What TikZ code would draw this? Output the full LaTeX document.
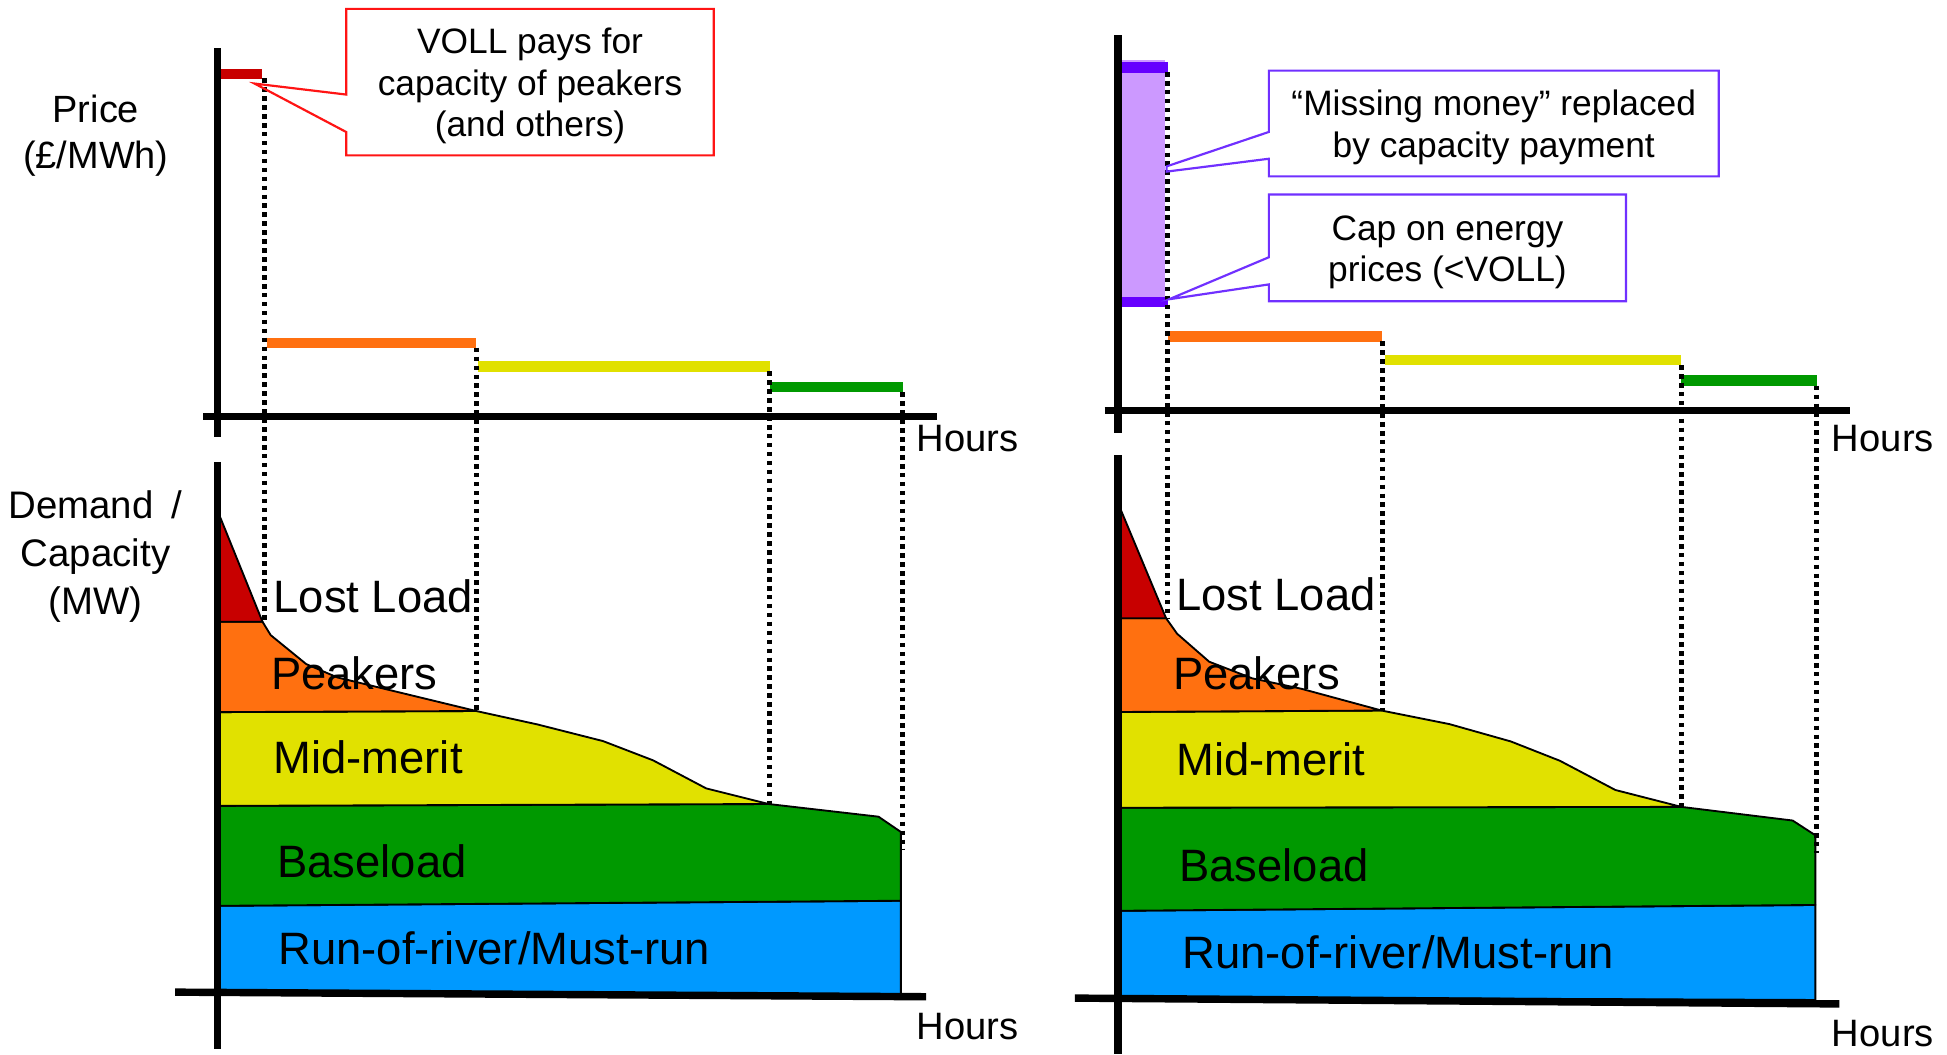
\documentclass[tikz,border=0pt]{standalone}
\usepackage{fontspec}
\setmainfont{Liberation Sans}
\usetikzlibrary{calc}
\definecolor{cRed}{RGB}{200,0,0}
\definecolor{cOrange}{RGB}{255,112,16}
\definecolor{cYellow}{RGB}{225,225,0}
\definecolor{cGreen}{RGB}{0,153,0}
\definecolor{cBlue}{RGB}{0,153,255}
\definecolor{cLilac}{RGB}{204,153,255}
\definecolor{cPurple}{RGB}{102,0,255}
\definecolor{cBorderPurple}{RGB}{112,48,255}
\definecolor{cBorderRed}{RGB}{255,20,20}
\newcommand\calltopstrut{\rule{0pt}{15.2pt}}
\begin{document}
\begin{tikzpicture}[x=0.02cm,y=-0.02cm,
  lay/.style={draw=black,line width=0.85pt,line join=round},
  axisline/.style={line width=3.4pt},
  pbar/.style={line width=4.9pt},
  dots/.style={line width=2.3pt,dash pattern=on 2.1pt off 2.0pt},
  lbl/.style={font=\fontsize{20.8}{25}\selectfont,anchor=base west,inner sep=0pt},
  hrs/.style={font=\fontsize{17.5}{21}\selectfont,anchor=base west,inner sep=0pt},
  calltext/.style={align=center,inner sep=0pt,font=\fontsize{16.2}{19}\selectfont},
  redcall/.style={draw=cBorderRed,line width=1pt,line join=miter},
  purcall/.style={draw=cBorderPurple,line width=1pt,line join=miter}]
\useasboundingbox (0,0) rectangle (1568,849);

% ---------------- LEFT PANEL: load layers ----------------
\fill[cBlue,lay] (175,729.5) -- (725.5,725.4) -- (725.5,801.5) -- (175,798) -- cycle;
\fill[cGreen,lay] (175,649) -- (619,647.5) -- (707.5,657.7) -- (725.5,670) -- (725.5,725.4) -- (175,729.5) -- cycle;
\fill[cYellow,lay] (175,573.5) -- (383.5,572.6) -- (432.8,583.4) -- (485.6,596.8) -- (525.9,612.3) -- (568.7,634.9) -- (619,647.5) -- (175,649) -- cycle;
\fill[cOrange,lay] (175,500.7) -- (211.4,500.7) -- (218,511.5) -- (246.6,534.8) -- (271.8,545.6) -- (317,556.5) -- (383.5,572.6) -- (175,573.5) -- cycle;
\fill[cRed,lay] (175,410.8) -- (211.4,500.7) -- (175,500.7) -- cycle;

% ---------------- RIGHT PANEL: load layers ----------------
\fill[cBlue,lay] (900,733.5) -- (1462,728.8) -- (1462,805.3) -- (900,803) -- cycle;
\fill[cGreen,lay] (900,650.5) -- (1354,649.8) -- (1443.7,660.8) -- (1462,672.7) -- (1462,728.8) -- (900,733.5) -- cycle;
\fill[cYellow,lay] (900,573.4) -- (1112.6,572.2) -- (1167.1,583.1) -- (1216.7,597.1) -- (1256.3,612.7) -- (1300.9,636.2) -- (1354,649.8) -- (900,650.5) -- cycle;
\fill[cOrange,lay] (900,497.9) -- (939.1,497.9) -- (948,510.4) -- (973.8,532.9) -- (1008.5,546.3) -- (1048.1,554.7) -- (1112.6,572.2) -- (900,573.4) -- cycle;
\fill[cRed,lay] (900,404.3) -- (939.1,497.9) -- (900,497.9) -- cycle;

% ---------------- price bars ----------------
\draw[pbar,cRed] (173.2,59.5) -- (210.8,59.5);
\draw[pbar,cOrange] (214.9,276.2) -- (383.5,276.2);
\draw[pbar,cYellow] (385,295) -- (620,295);
\draw[pbar,cGreen] (620,311.7) -- (727.5,311.7);

\fill[cLilac] (900,48.3) rectangle (938.2,247);
\draw[pbar,cPurple] (900,54.1) -- (940.9,54.1);
\draw[pbar,cPurple] (900,243.3) -- (940.9,243.3);
\draw[pbar,cOrange] (940.6,271.2) -- (1112.6,271.2);
\draw[pbar,cYellow] (1115,290) -- (1354,290);
\draw[pbar,cGreen] (1354,306.3) -- (1463,306.3);

% ---------------- dotted guide lines ----------------
\coordinate (la1) at (213.4,63);    \coordinate (lb1) at (213.4,500.7);
\coordinate (la2) at (383.5,280);   \coordinate (lb2) at (383.5,572.6);
\coordinate (la3) at (619.7,299);   \coordinate (lb3) at (619.7,647.5);
\coordinate (la4) at (727.2,316);   \coordinate (lb4) at (727.2,684.5);
\coordinate (ra1) at (940.6,58);    \coordinate (rb1) at (940.6,497.9);
\coordinate (ra2) at (1113.5,275);  \coordinate (rb2) at (1113.5,572.2);
\coordinate (ra3) at (1354,294);    \coordinate (rb3) at (1354,649.5);
\coordinate (ra4) at (1463,310.6);  \coordinate (rb4) at (1463,687);
\foreach \i in {1,2,3,4}{
  \draw[dots] (la\i) -- (lb\i);
  \draw[dots] (ra\i) -- (rb\i);
}

% ---------------- axes ----------------
\draw[axisline] (175.2,38.9) -- (175.2,352.2);
\draw[axisline] (163.6,335.6) -- (754.3,335.6);
\draw[axisline] (175.2,372) -- (175.2,845);
\draw[axisline] (141,799) -- (745.8,802.7);
\draw[axisline] (900.4,28.2) -- (900.4,348.5);
\draw[axisline] (889.5,330.7) -- (1490,330.7);
\draw[axisline] (900.4,366.8) -- (900.4,849);
\draw[axisline] (865.7,803.8) -- (1481.3,808.5);

% ---------------- callouts ----------------
\node[calltext,minimum width=5.906cm,minimum height=2.346cm] (voll) at (426.85,66.15)
  {\calltopstrut VOLL pays for\\capacity of peakers\\(and others)};
\coordinate (volltip) at (205,67.3);
\draw[redcall] (voll.north west) -- (voll.north east) -- (voll.south east) -- (voll.south west)
  -- ($(voll.south west)+(0,-18.8)$) -- (volltip) -- ($(voll.north west)+(0,69)$) -- cycle;

\node[calltext,minimum width=7.232cm,minimum height=1.69cm] (missing) at (1203,99.45)
  {\calltopstrut “Missing money” replaced\\by capacity payment};
\coordinate (mtipa) at (939.5,134);
\coordinate (mtipb) at (939.5,138.2);
\draw[purcall] (missing.north west) -- (missing.north east) -- (missing.south east) -- (missing.south west)
  -- ($(missing.south west)+(0,-14.2)$) -- (mtipb) -- (mtipa) -- ($(missing.north west)+(0,49.4)$) -- cycle;

\node[calltext,minimum width=5.74cm,minimum height=1.704cm] (cap) at (1165.7,199.6)
  {\calltopstrut Cap on energy\\prices (<VOLL)};
\coordinate (ctip) at (941.5,241);
\draw[purcall] (cap.north west) -- (cap.north east) -- (cap.south east) -- (cap.south west)
  -- ($(cap.south west)+(0,-13.5)$) -- (ctip) -- ($(cap.north west)+(0,50.5)$) -- cycle;

% ---------------- axis labels ----------------
\node[align=center,inner sep=0pt,font=\fontsize{17.4}{21}\selectfont] (price) at (77.2,109.5)
  {Price\\(£/MWh)};
\node[align=center,inner sep=0pt,font=\fontsize{17.6}{22.2}\selectfont] (demand) at (77,448.2)
  {Demand \kern0.2em/\\Capacity\\(MW)};
\node[hrs] (hoursTL) at (738,364) {Hours};
\node[hrs] (hoursTR) at (1475,364) {Hours};
\node[hrs] (hoursBL) at (738,837) {Hours};
\node[hrs] (hoursBR) at (1475,843) {Hours};

% ---------------- layer labels ----------------
\node[lbl] (lostL) at (220,492.9) {Lost Load};
\node[lbl] (peakL) at (218,555) {Peakers};
\node[lbl] (midL) at (220,623) {Mid-merit};
\node[lbl] (baseL) at (223,707) {Baseload};
\node[lbl] (runL) at (224,777) {Run-of-river/Must-run};
\node[lbl] (lostR) at (947,491.6) {Lost Load};
\node[lbl] (peakR) at (944.5,555.6) {Peakers};
\node[lbl] (midR) at (947,624.3) {Mid-merit};
\node[lbl] (baseR) at (949.5,710) {Baseload};
\node[lbl] (runR) at (952,780) {Run-of-river/Must-run};
\end{tikzpicture}
\end{document}
